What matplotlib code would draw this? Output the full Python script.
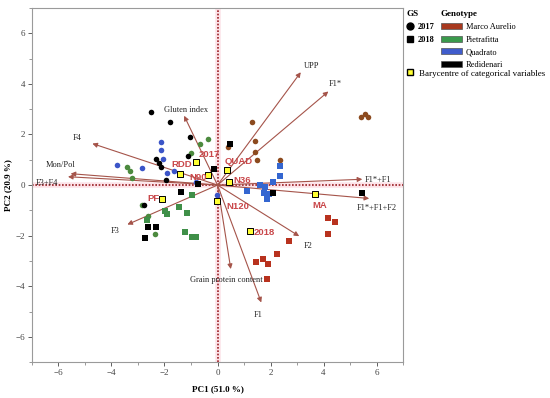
import numpy as np
import matplotlib
matplotlib.use("Agg")
import matplotlib.pyplot as plt
from matplotlib.lines import Line2D
from matplotlib.patches import Patch

plt.rcParams['font.family'] = ['Liberation Serif', 'DejaVu Serif']

# --- observations (PC1, PC2) by genotype and growing season ---
genotypes = ["Marco Aurelio", "Pietrafitta", "Quadrato", "Redidenari"]
geno_colors = ["#a8391f", "#3a9a4c", "#3f5ccc", "#000000"]
circle_colors = ["#8c4a1e", "#4c8a3e", "#3b55c8", "#000000"]
square_colors = ["#b8321e", "#3f8f48", "#3466d0", "#000000"]

ma_2017_x = [1.31, 1.40, 1.42, 1.50, 2.36, 0.38, 5.40, 5.55, 5.69]
ma_2017_y = [2.50, 1.75, 1.31, 0.98, 0.99, 1.52, 2.68, 2.82, 2.68]
pf_2017_x = [-0.35, -0.66, -1.01, -3.40, -3.30, -3.21, -2.63, -2.37, -2.85]
pf_2017_y = [1.84, 1.61, 1.28, 0.73, 0.56, 0.29, -1.22, -1.93, -0.78]
qu_2017_x = [-2.12, -2.12, -2.06, -3.80, -2.84, -1.89, -1.66, -0.82, -0.03]
qu_2017_y = [1.72, 1.40, 1.02, 0.80, 0.66, 0.48, 0.57, 0.12, -0.40]
rd_2017_x = [-2.52, -1.79, -1.04, -1.11, -2.31, -2.21, -2.12, -1.95, -2.77]
rd_2017_y = [2.87, 2.50, 1.90, 1.15, 1.02, 0.89, 0.73, 0.21, -0.79]

ma_2018_x = [4.17, 4.42, 4.17, 2.70, 2.26, 1.46, 1.72, 1.91, 1.86]
ma_2018_y = [-1.30, -1.46, -1.92, -2.22, -2.71, -3.04, -2.92, -3.12, -3.72]
pf_2018_x = [-0.97, -1.45, -1.99, -1.89, -1.14, -2.65, -1.23, -0.97, -0.80]
pf_2018_y = [-0.40, -0.87, -1.03, -1.16, -1.12, -1.39, -1.87, -2.06, -2.06]
qu_2018_x = [2.36, 2.36, 2.09, 1.60, 1.79, 1.77, 1.94, 1.88, 1.10]
qu_2018_y = [0.75, 0.36, 0.13, 0.00, -0.08, -0.30, -0.34, -0.54, -0.24]
rd_2018_x = [0.47, -0.13, -0.72, -1.39, 2.09, 5.43, -2.62, -2.31, -2.75]
rd_2018_y = [1.61, 0.62, 0.03, -0.27, -0.30, -0.30, -1.65, -1.67, -2.09]

# --- variable loadings (arrow tips) ---
var_names = ["UPP", "F1*", "F1*+F1", "F1*+F1+F2", "F2", "F1",
             "Grain protein content", "F3", "F3+F4", "Mon/Pol", "F4",
             "Gluten index"]
var_x = [3.14, 4.18, 5.46, 5.72, 3.08, 1.65, 0.50, -3.40, -5.64, -5.54, -4.72, -1.26]
var_y = [4.46, 3.70, 0.23, -0.53, -2.02, -4.64, -3.32, -1.56, 0.33, 0.45, 1.64, 2.74]
var_lab_x = [3.55, 4.45, 6.05, 6.0, 3.40, 1.55, 0.33, -3.85, -6.45, -5.92, -5.28, -1.18]
var_lab_y = [4.72, 3.98, 0.20, -0.90, -2.42, -5.12, -3.75, -1.80, 0.07, 0.80, 1.86, 2.98]

# --- barycentres of categorical variables ---
bary_names = ["2017", "RDD", "QUAD", "N90", "N36", "PF", "N120", "2018", "MA"]
bary_x = [-0.80, -1.40, 0.35, -0.35, 0.43, -2.10, -0.02, 1.23, 3.67]
bary_y = [0.92, 0.42, 0.61, 0.41, 0.13, -0.56, -0.62, -1.83, -0.37]
bary_lab_x = [-0.32, -1.34, 0.78, -0.72, 0.92, -2.42, 0.76, 1.78, 3.84]
bary_lab_y = [1.22, 0.80, 0.93, 0.30, 0.17, -0.52, -0.84, -1.86, -0.80]

fig = plt.figure(figsize=(5.5, 3.98), dpi=100)
ax = fig.add_axes([0.058, 0.090, 0.675, 0.890])

arrow_col = "#a5544a"
lab_col = "#c9474a"

# zero lines with pink band
ax.axvline(0, color="#fce3e8", lw=4, zorder=0)
ax.axhline(0, color="#fce3e8", lw=4, zorder=0)
ax.axvline(0, color="#9b1f24", lw=1.2, ls=(0, (1, 1)), zorder=1)
ax.axhline(0, color="#9b1f24", lw=1.2, ls=(0, (1, 1)), zorder=1)

# arrows
for name, x, y, lx, ly in zip(var_names, var_x, var_y, var_lab_x, var_lab_y):
    ax.annotate("", xy=(x, y), xytext=(0, 0),
                arrowprops=dict(arrowstyle="-|>", color=arrow_col, lw=0.8,
                                mutation_scale=7, shrinkA=0, shrinkB=0),
                zorder=2)
    ax.text(lx, ly, name, fontsize=6, ha="center", va="center", color="#222222", zorder=5)

# observations
circle_sets = [(ma_2017_x, ma_2017_y), (pf_2017_x, pf_2017_y),
               (qu_2017_x, qu_2017_y), (rd_2017_x, rd_2017_y)]
square_sets = [(ma_2018_x, ma_2018_y), (pf_2018_x, pf_2018_y),
               (qu_2018_x, qu_2018_y), (rd_2018_x, rd_2018_y)]
for (cx, cy), (sx, sy), cc, sc in zip(circle_sets, square_sets, circle_colors, square_colors):
    ax.scatter(cx, cy, marker="o", s=16, color=cc, lw=0, zorder=3)
    ax.scatter(sx, sy, marker="s", s=22, color=sc, lw=0, zorder=3)

# barycentres
ax.scatter(bary_x, bary_y, marker="s", s=18, color="#ffff33", edgecolor="black",
           lw=0.7, zorder=4)
for name, lx, ly in zip(bary_names, bary_lab_x, bary_lab_y):
    ax.text(lx, ly, name, fontsize=6.8, fontweight="bold", color=lab_col,
            ha="center", va="center", family=["Liberation Sans", "DejaVu Sans"], zorder=5)

ax.set_xlim(-7, 7)
ax.set_ylim(-7, 7)
ax.set_xticks([-6, -4, -2, 0, 2, 4, 6])
ax.set_yticks([-6, -4, -2, 0, 2, 4, 6])
ax.set_xticks(np.arange(-7, 8, 2), minor=True)
ax.set_yticks(np.arange(-7, 8, 2), minor=True)
ax.tick_params(labelsize=6.5, colors="#444444", length=3, width=0.6, pad=2)
ax.tick_params(which="minor", length=2, width=0.6, colors="#888888")
for sp in ax.spines.values():
    sp.set_color("#9a9a9a")
    sp.set_linewidth(0.8)
ax.set_xlabel("PC1 (51.0 %)", fontsize=6.5, fontweight="bold", labelpad=6)
ax.set_ylabel("PC2 (20.9 %)", fontsize=6.5, fontweight="bold", labelpad=2)

# legends
gs_handles = [Line2D([], [], marker="o", ls="", color="black", markersize=5, label="2017"),
              Line2D([], [], marker="s", ls="", color="black", markersize=5, label="2018")]
leg1 = fig.legend(handles=gs_handles, title="GS", loc="upper left",
                  bbox_to_anchor=(0.733, 0.982), frameon=False,
                  title_fontsize=6.5, handlelength=0.8, handletextpad=0.6,
                  labelspacing=0.55, borderaxespad=0, prop={"weight": "bold", "size": 6})
leg1.get_title().set_fontweight("bold")
leg1._legend_box.align = "left"

geno_handles = [Patch(facecolor=c, edgecolor="#555555", lw=0.5, label=g)
                for g, c in zip(genotypes, geno_colors)]
leg2 = fig.legend(handles=geno_handles, title="Genotype", loc="upper left",
                  bbox_to_anchor=(0.795, 0.982), frameon=False, fontsize=6,
                  title_fontsize=6.5, handlelength=2.6, handleheight=0.7,
                  handletextpad=0.4, labelspacing=0.55, borderaxespad=0)
leg2.get_title().set_fontweight("bold")
leg2._legend_box.align = "left"

bary_handle = [Line2D([], [], marker="s", ls="", markerfacecolor="#ffff33",
                      markeredgecolor="black", markersize=4.5,
                      label="Barycentre of categorical variables")]
fig.legend(handles=bary_handle, loc="upper left", bbox_to_anchor=(0.733, 0.835),
           frameon=False, fontsize=6.5, handlelength=0.8, handletextpad=0.6,
           borderaxespad=0)

fig.savefig("out.png", dpi=100)
